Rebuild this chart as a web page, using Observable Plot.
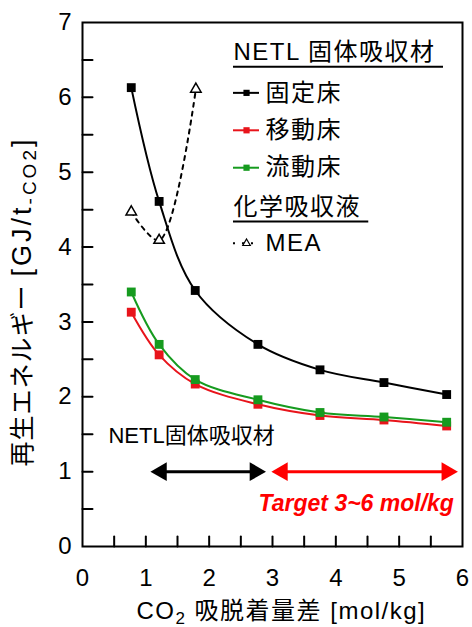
<!DOCTYPE html>
<html><head><meta charset="utf-8">
<script src="https://cdn.jsdelivr.net/npm/d3@7"></script>
<script src="https://cdn.jsdelivr.net/npm/@observablehq/plot@0.6"></script>
<style>html,body{margin:0;padding:0;background:#fff}</style>
</head><body><div id="chart"></div>
<script>
// ---- data ----
const loading   = [0.77, 1.21, 1.78, 2.77, 3.75, 4.76, 5.75];
const fixedBed  = [6.13, 4.61, 3.42, 2.70, 2.36, 2.19, 2.03];
const movingBed = [3.13, 2.56, 2.17, 1.90, 1.75, 1.69, 1.61];
const fluidBed  = [3.40, 2.70, 2.23, 1.96, 1.79, 1.73, 1.66];
const meaLoading = [0.77, 1.21, 1.79];
const meaEnergy  = [4.47, 4.09, 6.11];
const seriesNames  = ["固定床", "移動床", "流動床"];
const seriesColors = ["#000000", "#e8141b", "#169b1f"];
const xTicks = [0, 1, 2, 3, 4, 5, 6];
const yTicks = [0, 1, 2, 3, 4, 5, 6, 7];
const netlRange   = [1.11, 2.86];
const targetRange = [3.02, 5.89];
const xLabel = "CO2 吸脱着量差 [mol/kg]";
const yLabel = "再生エネルギー [GJ/t-CO2]";
const legendHeader1 = "NETL 固体吸収材";
const legendHeader2 = "化学吸収液";
const meaName = "MEA";
const netlNote = "NETL固体吸収材";
const targetNote = "Target 3~6 mol/kg";

// ---- build tables ----
const values = [fixedBed, movingBed, fluidBed];
const series = seriesNames.map((name, k) => ({
  name, color: seriesColors[k],
  rows: loading.map((x, i) => ({x, y: values[k][i]}))
}));
const meaRows = meaLoading.map((x, i) => ({x, y: meaEnergy[i]}));
const drawOrder = [1, 2, 0];
const xMinor = d3.range(0.5, 6, 0.5);
const yMinor = d3.range(0.5, 7, 0.5);

const font = "'Liberation Sans', Arial, 'Noto Sans CJK JP', sans-serif";
const tickShape = {draw(ctx, l) { ctx.moveTo(0, 0); ctx.lineTo(0, -l); }};

// legend layout (data coordinates)
const lgX = 2.384, lgSymEnd = 2.795, lgSymMid = 2.59, lgTextX = 2.89;
const lgRowsY = [6.06, 5.56, 5.06];
const legendRows = series.map((s, i) => ({name: s.name, color: s.color, y: lgRowsY[i]}));

const marks = [];
marks.push(Plot.line(meaRows, {x: "x", y: "y", stroke: "black", strokeWidth: 2, strokeDasharray: "4,5", curve: "catmull-rom"}));
marks.push(Plot.dot(meaRows, {x: "x", y: "y", symbol: "triangle", r: 3.9, fill: "white", stroke: "black", strokeWidth: 1.5}));
for (const k of drawOrder) {
  const s = series[k];
  marks.push(Plot.line(s.rows, {x: "x", y: "y", stroke: s.color, strokeWidth: 2, curve: "catmull-rom"}));
  marks.push(Plot.dot(s.rows, {x: "x", y: "y", symbol: "square", r: 5, fill: s.color, stroke: "none"}));
}
// inner ticks
marks.push(Plot.vector(xMinor, {x: d => d, y: () => 0, length: 10, rotate: 0, anchor: "start", shape: tickShape, stroke: "black", strokeWidth: 2}));
marks.push(Plot.vector(yMinor, {x: () => 0, y: d => d, length: 10, rotate: 90, anchor: "start", shape: tickShape, stroke: "black", strokeWidth: 2}));
// frame & axes
marks.push(Plot.frame({stroke: "black", strokeWidth: 2}));
marks.push(Plot.axisX(xTicks, {tickSize: 0, tickPadding: 22, fontSize: 24, tickFormat: d => d, label: null}));
marks.push(Plot.axisY(yTicks, {tickSize: 0, tickPadding: 11, fontSize: 24, tickFormat: d => d, label: null}));
// axis titles
marks.push(Plot.text([xLabel], {x: () => 3.14, y: () => -0.87, text: d => d, fontSize: 24, textAnchor: "middle", lineAnchor: "middle"}));
marks.push(Plot.text([yLabel], {x: () => -0.94, y: () => 3.26, text: d => d, fontSize: 25, textAnchor: "middle", lineAnchor: "middle", rotate: -90}));
// range arrows
const arrows = [{r: netlRange, color: "black"}, {r: targetRange, color: "#ff0000"}];
for (const a of arrows) {
  marks.push(Plot.ruleY([1], {x1: a.r[0], x2: a.r[1], stroke: a.color, strokeWidth: 3, insetLeft: 10, insetRight: 10}));
  marks.push(Plot.dot([a.r[1]], {x: d => d, y: () => 1, symbol: "triangle", rotate: 90, r: 7, fill: a.color, stroke: "none", dx: -8.5}));
  marks.push(Plot.dot([a.r[0]], {x: d => d, y: () => 1, symbol: "triangle", rotate: -90, r: 7, fill: a.color, stroke: "none", dx: 8.5}));
}
marks.push(Plot.text([netlNote], {x: () => 0.41, y: () => 1.48, text: d => d, fontSize: 22, textAnchor: "start", lineAnchor: "middle"}));
marks.push(Plot.text([targetNote], {x: () => 2.78, y: () => 0.57, text: d => d, fontSize: 23, fontWeight: "bold", fontStyle: "italic", fill: "#ff0000", textAnchor: "start", lineAnchor: "middle"}));
// legend
marks.push(Plot.text([legendHeader1], {x: () => lgX, y: () => 6.60, text: d => d, fontSize: 24, textAnchor: "start", lineAnchor: "middle"}));
marks.push(Plot.ruleY([6.41], {x1: lgX, x2: 5.70, stroke: "black", strokeWidth: 2}));
marks.push(Plot.ruleY(legendRows, {y: "y", x1: lgX, x2: lgSymEnd, stroke: "color", strokeWidth: 2}));
marks.push(Plot.dot(legendRows, {x: () => lgSymMid, y: "y", symbol: "square", r: 3.5, fill: "color", stroke: "none"}));
marks.push(Plot.text(legendRows, {x: () => lgTextX, y: "y", text: "name", fontSize: 24, textAnchor: "start", lineAnchor: "middle"}));
marks.push(Plot.text([legendHeader2], {x: () => lgX, y: () => 4.53, text: d => d, fontSize: 24, textAnchor: "start", lineAnchor: "middle"}));
marks.push(Plot.ruleY([4.34], {x1: lgX, x2: 4.52, stroke: "black", strokeWidth: 2}));
marks.push(Plot.ruleY([4.05], {x1: lgX, x2: 2.77, stroke: "black", strokeWidth: 2, strokeDasharray: "2,7"}));
marks.push(Plot.dot([4.05], {x: () => lgSymMid, y: d => d, symbol: "triangle", r: 2.8, fill: "white", stroke: "black", strokeWidth: 1.2}));
marks.push(Plot.text([meaName], {x: () => lgTextX, y: () => 4.05, text: d => d, fontSize: 24, textAnchor: "start", lineAnchor: "middle"}));

const chart = Plot.plot({
  width: 472, height: 627,
  marginLeft: 82, marginRight: 10, marginTop: 22, marginBottom: 81,
  x: {domain: [0, 6]}, y: {domain: [0, 7]},
  style: {fontFamily: font, fontSize: "24px", background: "white", color: "black", overflow: "visible"},
  marks
});
document.getElementById("chart").appendChild(chart);

// ---- post-process: subscripts & letter spacing ----
const svg = d3.select(chart);
svg.selectAll("text").each(function() {
  const t = d3.select(this);
  const s = this.textContent;
  if (s === xLabel) {
    t.attr("letter-spacing", "1.5px");
    t.text("CO");
    t.append("tspan").attr("font-size", 17).attr("dy", 5).text("2");
    t.append("tspan").attr("dy", -5).text(" 吸脱着量差 [mol/kg]");
  } else if (s === yLabel) {
    t.text("再生エネルギー ").attr("letter-spacing", "1px");
    t.append("tspan").attr("font-size", 27).attr("letter-spacing", "3px").text("[GJ/t");
    t.append("tspan").attr("font-size", 19).attr("letter-spacing", "3px").attr("dy", 5).text("-CO2");
    t.append("tspan").attr("font-size", 27).attr("dy", -5).text("]");
  } else if (s === legendHeader1 || s === legendHeader2 || s === meaName || seriesNames.includes(s)) {
    t.attr("letter-spacing", "1.5px");
  }
});
</script>
</body></html>
